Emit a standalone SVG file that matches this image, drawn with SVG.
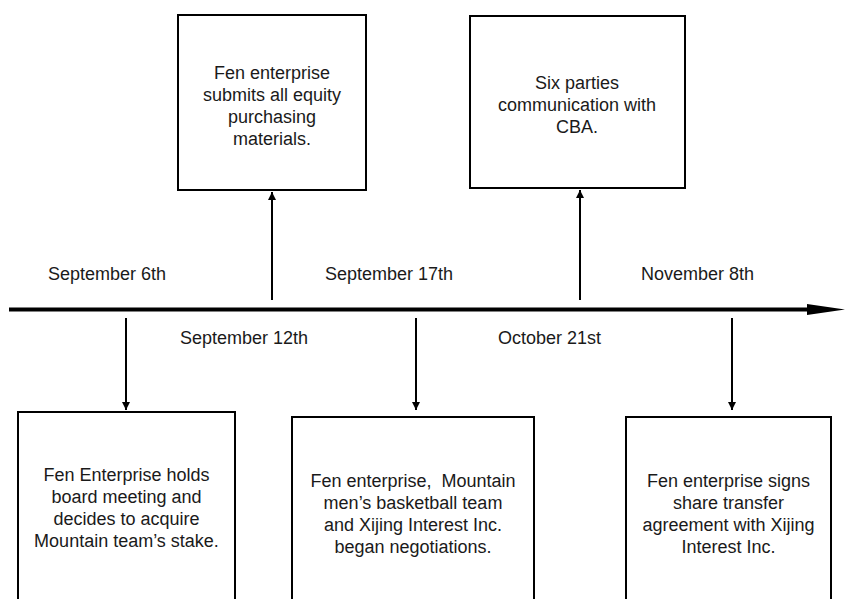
<svg xmlns="http://www.w3.org/2000/svg" width="851" height="599" viewBox="0 0 851 599">
<style>
.box{fill:#fff;stroke:#000;stroke-width:2}
.t{font-family:"Liberation Sans",Arial,sans-serif;font-size:18px;fill:#1a1a1a;text-anchor:middle}
.d{font-family:"Liberation Sans",Arial,sans-serif;font-size:18px;fill:#1a1a1a}
.c{stroke:#000;stroke-width:2;fill:none}
</style>
<defs>
<marker id="ah" viewBox="0 0 10 10" refX="10" refY="5" markerWidth="4" markerHeight="5" markerUnits="strokeWidth" orient="auto">
<path d="M0,0 L10,5 L0,10 z" fill="#000"/>
</marker>
</defs>
<rect width="851" height="599" fill="#fff"/>
<g id="connectors">
<line x1="9" y1="309.5" x2="810" y2="309.5" stroke="#000" stroke-width="4"/>
<polygon points="807,304 845,309.5 807,315" fill="#000"/>
<line class="c" x1="272" y1="300" x2="272" y2="192" marker-end="url(#ah)"/>
<line class="c" x1="580" y1="300" x2="580" y2="190" marker-end="url(#ah)"/>
<line class="c" x1="126" y1="318" x2="126" y2="410" marker-end="url(#ah)"/>
<line class="c" x1="416" y1="318" x2="416" y2="410" marker-end="url(#ah)"/>
<line class="c" x1="732" y1="318" x2="732" y2="410" marker-end="url(#ah)"/>
</g>
<g id="dates">
<text class="d" x="48" y="280">September 6th</text>
<text class="d" x="180" y="344">September 12th</text>
<text class="d" x="325" y="280">September 17th</text>
<text class="d" x="498" y="344">October 21st</text>
<text class="d" x="641" y="280">November 8th</text>
</g>
<g id="node-top1">
<rect class="box" x="178" y="15" width="188" height="175"/>
<text class="t" x="272" y="79">Fen enterprise</text>
<text class="t" x="272" y="101">submits all equity</text>
<text class="t" x="272" y="123">purchasing</text>
<text class="t" x="272" y="145">materials.</text>
</g>
<g id="node-top2">
<rect class="box" x="470" y="16" width="215" height="172"/>
<text class="t" x="577" y="89">Six parties</text>
<text class="t" x="577" y="111">communication with</text>
<text class="t" x="577" y="133">CBA.</text>
</g>
<g id="node-bot1">
<rect class="box" x="18" y="412" width="217" height="200"/>
<text class="t" x="126.5" y="481">Fen Enterprise holds</text>
<text class="t" x="126.5" y="503">board meeting and</text>
<text class="t" x="126.5" y="525">decides to acquire</text>
<text class="t" x="126.5" y="547">Mountain team’s stake.</text>
</g>
<g id="node-bot2">
<rect class="box" x="292" y="417" width="242" height="200"/>
<text class="t" x="413" y="487" xml:space="preserve">Fen enterprise,  Mountain</text>
<text class="t" x="413" y="509">men’s basketball team</text>
<text class="t" x="413" y="531">and Xijing Interest Inc.</text>
<text class="t" x="413" y="553">began negotiations.</text>
</g>
<g id="node-bot3">
<rect class="box" x="626" y="417" width="205" height="200"/>
<text class="t" x="728.5" y="487">Fen enterprise signs</text>
<text class="t" x="728.5" y="509">share transfer</text>
<text class="t" x="728.5" y="531">agreement with Xijing</text>
<text class="t" x="728.5" y="553">Interest Inc.</text>
</g>
</svg>
